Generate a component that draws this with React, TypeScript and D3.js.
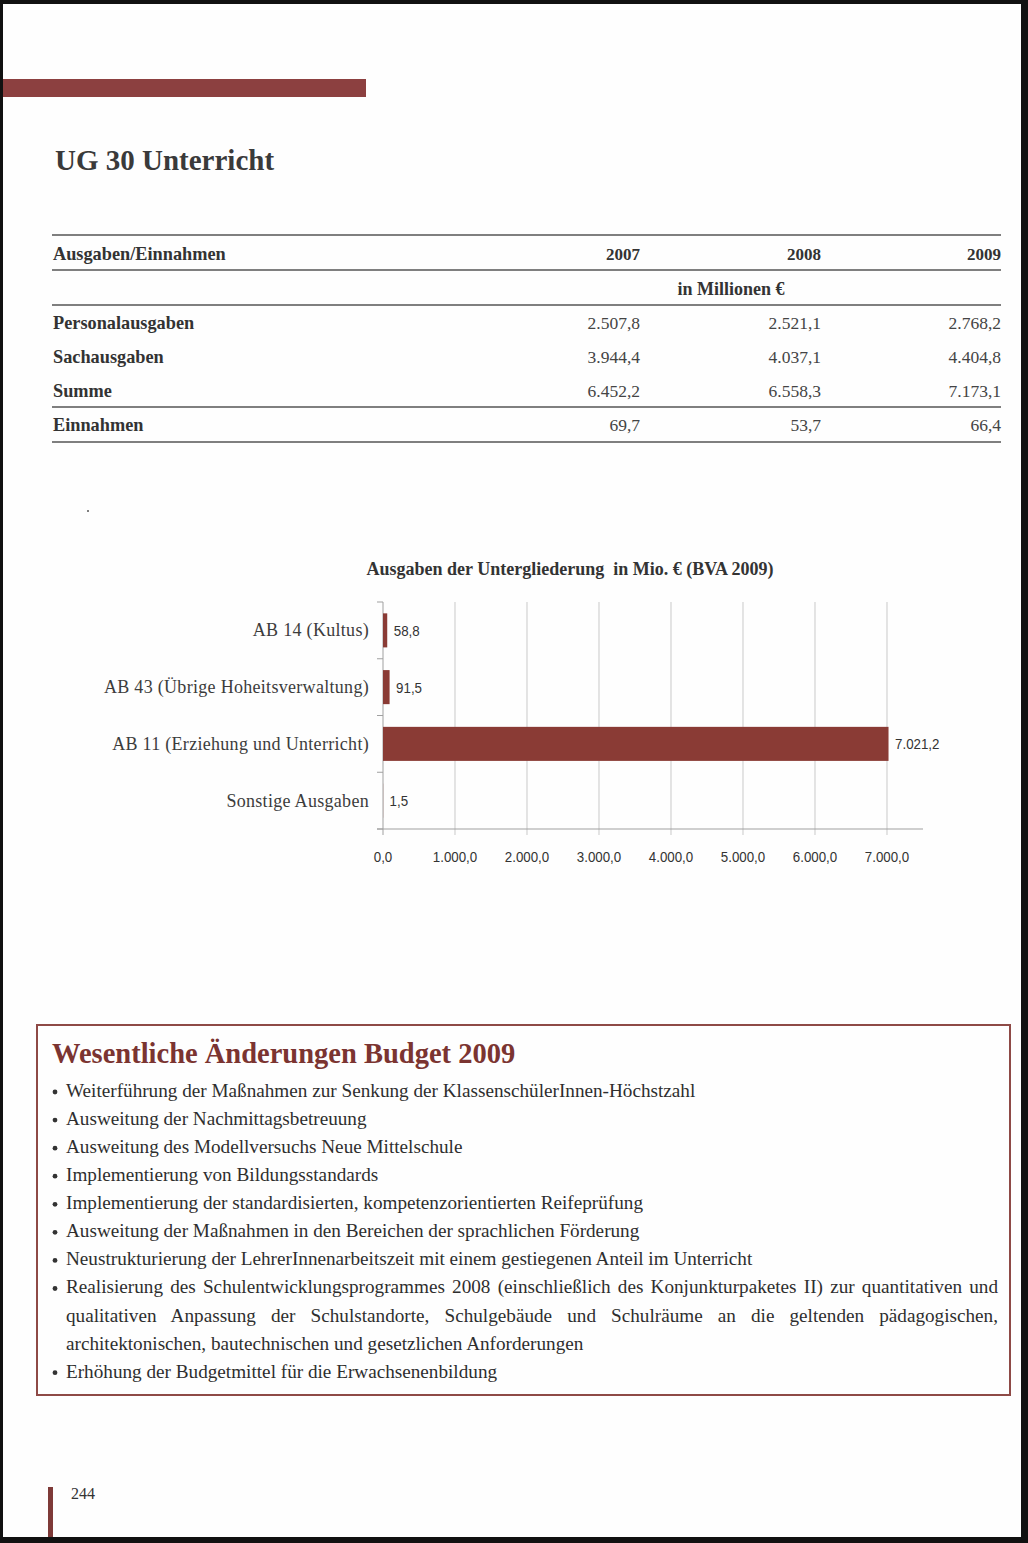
import React, { useEffect, useRef } from "react";
import * as d3 from "d3";

const W = 1028;
const H = 1543;

// ---- Table data ----
const tableYears = ["2007", "2008", "2009"];
const tableRows = ["Personalausgaben", "Sachausgaben", "Summe", "Einnahmen"];
const values2007 = [2507.8, 3944.4, 6452.2, 69.7];
const values2008 = [2521.1, 4037.1, 6558.3, 53.7];
const values2009 = [2768.2, 4404.8, 7173.1, 66.4];

// ---- Chart data ----
const chartTitle = "Ausgaben der Untergliederung  in Mio. € (BVA 2009)";
const chartCategories = [
  "AB 14 (Kultus)",
  "AB 43 (Übrige Hoheitsverwaltung)",
  "AB 11 (Erziehung und Unterricht)",
  "Sonstige Ausgaben",
];
const chartValues = [58.8, 91.5, 7021.2, 1.5];
const xTicks = [0, 1000, 2000, 3000, 4000, 5000, 6000, 7000];

// ---- Box text ----
const boxTitle = "Wesentliche Änderungen Budget 2009";
const bulletLines = [
  "Weiterführung der Maßnahmen zur Senkung der KlassenschülerInnen-Höchstzahl",
  "Ausweitung der Nachmittagsbetreuung",
  "Ausweitung des Modellversuchs Neue Mittelschule",
  "Implementierung von Bildungsstandards",
  "Implementierung der standardisierten, kompetenzorientierten Reifeprüfung",
  "Ausweitung der Maßnahmen in den Bereichen der sprachlichen Förderung",
  "Neustrukturierung der LehrerInnenarbeitszeit mit einem gestiegenen Anteil im Unterricht",
  "Realisierung des Schulentwicklungsprogrammes 2008 (einschließlich des Konjunkturpaketes II) zur quantitativen und",
  "qualitativen Anpassung der Schulstandorte, Schulgebäude und Schulräume an die geltenden pädagogischen,",
  "architektonischen, bautechnischen und gesetzlichen Anforderungen",
  "Erhöhung der Budgetmittel für die Erwachsenenbildung",
];
const bulletFlags = [true, true, true, true, true, true, true, true, false, false, true];
const justifyFlags = [false, false, false, false, false, false, false, true, true, false, false];
const pageNumber = "244";

const SERIF = "'Liberation Serif', 'Times New Roman', serif";
const SANS = "'Liberation Sans', Arial, sans-serif";
const TEXT = "#333";
const RED = "#8a3b35";

const deLocale = d3.formatLocale({
  decimal: ",",
  thousands: ".",
  grouping: [3],
  currency: ["", " €"],
});
const fmt = deLocale.format(",.1f");

export default function App() {
  const ref = useRef<SVGSVGElement | null>(null);

  useEffect(() => {
    const svg = d3.select(ref.current);
    svg.selectAll("*").remove();

    // page frame
    svg.append("rect").attr("x", 0).attr("y", 0).attr("width", W).attr("height", H).attr("fill", "#111");
    svg.append("rect").attr("x", 3).attr("y", 4).attr("width", 1018).attr("height", 1533).attr("fill", "#fefefe");

    // top red bar
    svg.append("rect").attr("x", 3).attr("y", 79).attr("width", 363).attr("height", 18).attr("fill", "#8c4040");

    // title
    svg.append("text").attr("x", 55).attr("y", 170)
      .attr("font-family", SERIF).attr("font-weight", "bold").attr("font-size", 29)
      .attr("fill", "#3a3a3a").text("UG 30 Unterricht");

    // ---- table ----
    const tbl = svg.append("g");
    const lineYs = [235, 270, 305, 407, 442];
    lineYs.forEach((y) => {
      tbl.append("line").attr("x1", 52).attr("x2", 1001).attr("y1", y).attr("y2", y)
        .attr("stroke", "#555").attr("stroke-width", 1.6);
    });
    const colX = [640, 821, 1001];
    tbl.append("text").attr("x", 53).attr("y", 260).attr("font-family", SERIF)
      .attr("font-weight", "bold").attr("font-size", 18.3).attr("fill", TEXT).text("Ausgaben/Einnahmen");
    tableYears.forEach((yr, i) => {
      tbl.append("text").attr("x", colX[i]).attr("y", 260).attr("text-anchor", "end")
        .attr("font-family", SERIF).attr("font-weight", "bold").attr("font-size", 17)
        .attr("fill", TEXT).text(yr);
    });
    tbl.append("text").attr("x", 731).attr("y", 295).attr("text-anchor", "middle")
      .attr("font-family", SERIF).attr("font-weight", "bold").attr("font-size", 18)
      .attr("fill", TEXT).text("in Millionen €");
    const rowYs = [329, 363, 397, 431];
    const cols = [values2007, values2008, values2009];
    tableRows.forEach((r, i) => {
      tbl.append("text").attr("x", 53).attr("y", rowYs[i]).attr("font-family", SERIF)
        .attr("font-weight", "bold").attr("font-size", 18.3).attr("fill", TEXT).text(r);
      cols.forEach((c, j) => {
        tbl.append("text").attr("x", colX[j]).attr("y", rowYs[i]).attr("text-anchor", "end")
          .attr("font-family", SERIF).attr("font-size", 17.5).attr("fill", "#444").text(fmt(c[i]));
      });
    });

    // speck
    svg.append("circle").attr("cx", 88).attr("cy", 511).attr("r", 1).attr("fill", "#555");

    // ---- chart ----
    const ch = svg.append("g");
    ch.append("text").attr("x", 570).attr("y", 575).attr("text-anchor", "middle")
      .attr("font-family", SERIF).attr("font-weight", "bold").attr("font-size", 18)
      .attr("fill", TEXT).style("white-space", "pre").text(chartTitle);

    const x = d3.scaleLinear().domain([0, 7500]).range([383, 923]);
    const y = d3.scaleBand<string>().domain(chartCategories).range([602, 829])
      .paddingInner(0.4).paddingOuter(0.2);

    // gridlines
    xTicks.slice(1).forEach((t) => {
      ch.append("line").attr("x1", x(t)).attr("x2", x(t)).attr("y1", 602).attr("y2", 835)
        .attr("stroke", "#c9c9c9").attr("stroke-width", 1);
    });
    ch.append("line").attr("x1", x(0)).attr("x2", x(0)).attr("y1", 829).attr("y2", 835)
      .attr("stroke", "#a0a0a0");
    // y axis
    ch.append("line").attr("x1", x(0)).attr("x2", x(0)).attr("y1", 602).attr("y2", 829)
      .attr("stroke", "#a0a0a0").attr("stroke-width", 1);
    const step = y.step();
    d3.range(chartCategories.length + 1).forEach((i) => {
      const yy = 602 + i * step;
      ch.append("line").attr("x1", x(0) - 6).attr("x2", x(0)).attr("y1", yy).attr("y2", yy)
        .attr("stroke", "#a0a0a0");
    });
    // x axis
    ch.append("line").attr("x1", x(0) - 6).attr("x2", x(7500)).attr("y1", 829).attr("y2", 829)
      .attr("stroke", "#a0a0a0");

    const narrowText = (g: any, tx: number, ty: number, str: string, anchor: string) =>
      g.append("text")
        .attr("transform", `translate(${tx},${ty}) scale(0.86,1)`)
        .attr("text-anchor", anchor)
        .attr("font-family", SANS).attr("font-size", 15.5).attr("fill", "#333")
        .text(str);

    // bars
    chartCategories.forEach((c, i) => {
      const v = chartValues[i];
      const by = y(c) as number;
      ch.append("rect").attr("x", x(0)).attr("y", by).attr("width", x(v) - x(0))
        .attr("height", y.bandwidth()).attr("fill", RED);
      narrowText(ch, x(v) + 6.5, by + y.bandwidth() / 2 + 5.5, fmt(v), "start");
      ch.append("text").attr("x", 369).attr("y", by + y.bandwidth() / 2 + 6)
        .attr("text-anchor", "end").attr("font-family", SERIF).attr("font-size", 18)
        .attr("letter-spacing", 0.3)
        .attr("fill", "#3c3c3c").text(c);
    });
    xTicks.forEach((t) => {
      narrowText(ch, x(t), 862, fmt(t), "middle");
    });

    // ---- box ----
    const bx = svg.append("g");
    bx.append("rect").attr("x", 37).attr("y", 1025).attr("width", 973).attr("height", 370)
      .attr("fill", "none").attr("stroke", "#8e4a46").attr("stroke-width", 2);
    bx.append("text").attr("x", 52).attr("y", 1063).attr("font-family", SERIF)
      .attr("font-weight", "bold").attr("font-size", 28.5).attr("fill", "#7b3431").text(boxTitle);

    bulletLines.forEach((line, i) => {
      const by = 1097 + i * 28.07;
      if (bulletFlags[i]) {
        bx.append("circle").attr("cx", 55).attr("cy", by - 5).attr("r", 2.4).attr("fill", "#333");
      }
      const t = bx.append("text").attr("x", 66).attr("y", by).attr("font-family", SERIF)
        .attr("font-size", 19.2).attr("fill", "#2e2e2e").text(line);
      if (justifyFlags[i]) {
        const node = t.node() as SVGTextElement;
        const w = node.getComputedTextLength();
        const spaces = (line.match(/ /g) || []).length;
        const target = 998 - 66;
        if (spaces > 0 && w < target) {
          t.attr("word-spacing", (target - w) / spaces);
        } else if (w > target) {
          t.attr("textLength", target).attr("lengthAdjust", "spacing");
        }
      }
    });

    // page number
    svg.append("rect").attr("x", 48).attr("y", 1487).attr("width", 5).attr("height", 50).attr("fill", "#7e3a38");
    svg.append("text").attr("x", 71).attr("y", 1499).attr("font-family", SERIF)
      .attr("font-size", 16).attr("fill", TEXT).text(pageNumber);
  }, []);

  return (
    <div style={{ position: "absolute", left: 0, top: 0 }}>
      <svg ref={ref} width={W} height={H} style={{ display: "block" }} />
    </div>
  );
}
